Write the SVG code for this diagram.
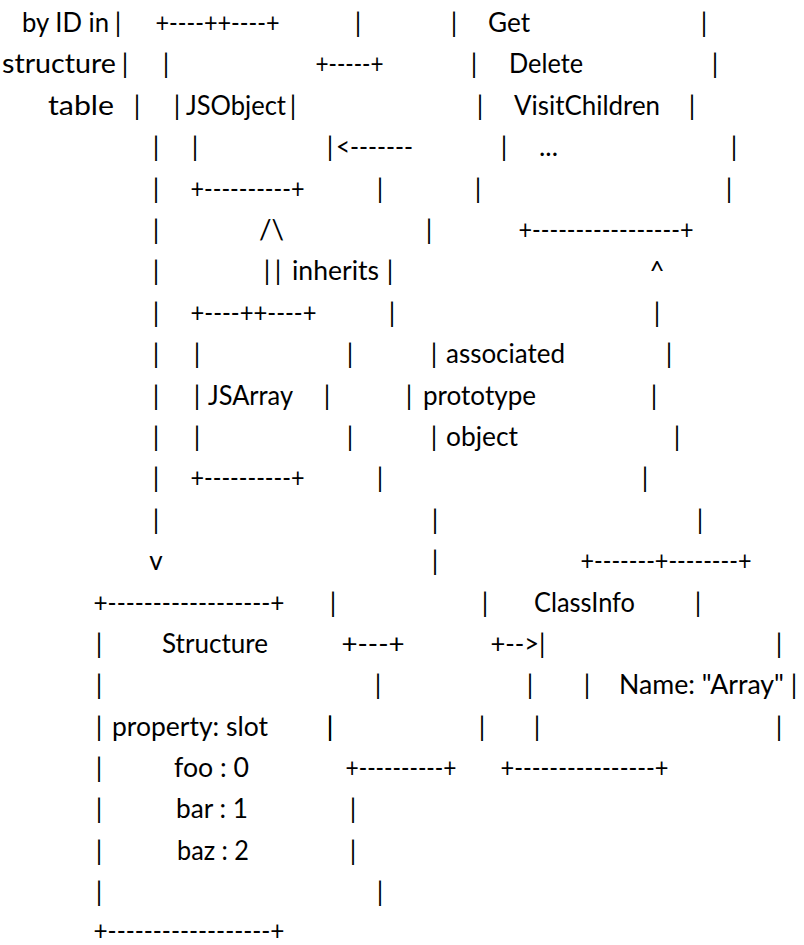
<svg xmlns="http://www.w3.org/2000/svg" width="804" height="945" viewBox="0 0 804 945">
  <style>
    text { font-family: Lato, "Open Sans", sans-serif; font-size: 26px; fill: #000; }
    .c { text-anchor: middle; }
  </style>
  <rect width="804" height="945" fill="#fff"/>

  <!-- structure-table pointer running down the left side -->
  <g id="structure-table-link">
    <text x="22" y="32" textLength="87" lengthAdjust="spacingAndGlyphs">by ID in</text>
    <text class="c" x="118" y="32">|</text>
    <text x="2" y="73" textLength="114" lengthAdjust="spacingAndGlyphs">structure</text>
    <text class="c" x="125" y="73">|</text>
    <text x="48" y="115" textLength="66" lengthAdjust="spacingAndGlyphs">table</text>
    <text class="c" x="137" y="115">|</text>
    <text class="c" x="156" y="156">|</text>
    <text class="c" x="156" y="198">|</text>
    <text class="c" x="156" y="239">|</text>
    <text class="c" x="156" y="280">|</text>
    <text class="c" x="156" y="322">|</text>
    <text class="c" x="156" y="363">|</text>
    <text class="c" x="156" y="405">|</text>
    <text class="c" x="156" y="446">|</text>
    <text class="c" x="156" y="487">|</text>
    <text class="c" x="156" y="529">|</text>
    <text class="c" x="156" y="570">v</text>
  </g>

  <!-- JSObject box -->
  <g id="jsobject">
    <text x="155.5" y="32" textLength="124" lengthAdjust="spacingAndGlyphs">+----++----+</text>
    <text class="c" x="166" y="73">|</text>
    <text class="c" x="177" y="115">|</text>
    <text x="186" y="115" textLength="100" lengthAdjust="spacingAndGlyphs">JSObject</text>
    <text class="c" x="293" y="115">|</text>
    <text class="c" x="195" y="156">|</text>
    <text x="190.5" y="198" textLength="114" lengthAdjust="spacingAndGlyphs">+----------+</text>
  </g>

  <!-- inheritance arrow -->
  <g id="inherits">
    <text x="259" y="239" textLength="25" lengthAdjust="spacingAndGlyphs">/\</text>
    <text class="c" x="267" y="280">|</text>
    <text class="c" x="278" y="280">|</text>
    <text x="292" y="280" textLength="87" lengthAdjust="spacingAndGlyphs">inherits</text>
  </g>

  <!-- JSArray box -->
  <g id="jsarray">
    <text x="190.5" y="322" textLength="126" lengthAdjust="spacingAndGlyphs">+----++----+</text>
    <text class="c" x="197" y="363">|</text>
    <text class="c" x="350" y="363">|</text>
    <text class="c" x="197" y="405">|</text>
    <text x="208" y="405" textLength="85" lengthAdjust="spacingAndGlyphs">JSArray</text>
    <text class="c" x="327" y="405">|</text>
    <text class="c" x="197" y="446">|</text>
    <text class="c" x="350" y="446">|</text>
    <text x="190.5" y="487" textLength="114" lengthAdjust="spacingAndGlyphs">+----------+</text>
  </g>

  <!-- method table -->
  <g id="method-table">
    <text class="c" x="454" y="32">|</text>
    <text x="488" y="32" textLength="42" lengthAdjust="spacingAndGlyphs">Get</text>
    <text class="c" x="704" y="32">|</text>
    <text class="c" x="474" y="73">|</text>
    <text x="509" y="73" textLength="74" lengthAdjust="spacingAndGlyphs">Delete</text>
    <text class="c" x="715" y="73">|</text>
    <text class="c" x="480" y="115">|</text>
    <text x="514" y="115" textLength="146" lengthAdjust="spacingAndGlyphs">VisitChildren</text>
    <text class="c" x="692" y="115">|</text>
    <text class="c" x="504" y="156">|</text>
    <text x="539" y="156" textLength="19" lengthAdjust="spacingAndGlyphs">...</text>
    <text class="c" x="734" y="156">|</text>
    <text class="c" x="478" y="198">|</text>
    <text class="c" x="729" y="198">|</text>
    <text x="518.5" y="239" textLength="175" lengthAdjust="spacingAndGlyphs">+-----------------+</text>
  </g>

  <!-- connectors: prototype and class-info links -->
  <g id="connectors">
    <text class="c" x="358" y="32">|</text>
    <text x="315.5" y="73" textLength="68" lengthAdjust="spacingAndGlyphs">+-----+</text>
    <text class="c" x="330" y="156">|</text>
    <text x="336" y="156" textLength="77" lengthAdjust="spacingAndGlyphs">&lt;-------</text>
    <text class="c" x="380" y="198">|</text>
    <text class="c" x="429" y="239">|</text>
    <text class="c" x="390" y="280">|</text>
    <text class="c" x="657" y="280">^</text>
    <text class="c" x="392" y="322">|</text>
    <text class="c" x="657" y="322">|</text>
    <text class="c" x="434" y="363">|</text>
    <text x="446" y="363" textLength="119" lengthAdjust="spacingAndGlyphs">associated</text>
    <text class="c" x="669" y="363">|</text>
    <text class="c" x="409" y="405">|</text>
    <text x="423" y="405" textLength="113" lengthAdjust="spacingAndGlyphs">prototype</text>
    <text class="c" x="654" y="405">|</text>
    <text class="c" x="434" y="446">|</text>
    <text x="446" y="446" textLength="72" lengthAdjust="spacingAndGlyphs">object</text>
    <text class="c" x="677" y="446">|</text>
    <text class="c" x="380" y="487">|</text>
    <text class="c" x="645" y="487">|</text>
    <text class="c" x="435" y="529">|</text>
    <text class="c" x="700" y="529">|</text>
    <text class="c" x="435" y="570">|</text>
    <text class="c" x="333" y="612">|</text>
    <text class="c" x="485" y="612">|</text>
    <text x="341.5" y="653" textLength="63" lengthAdjust="spacingAndGlyphs">+---+</text>
    <text x="490.5" y="653" textLength="55" lengthAdjust="spacingAndGlyphs">+--&gt;|</text>
    <text class="c" x="378" y="694">|</text>
    <text class="c" x="330" y="736">|</text>
    <text class="c" x="482" y="736">|</text>
    <text x="345.5" y="777" textLength="111" lengthAdjust="spacingAndGlyphs">+----------+</text>
  </g>

  <!-- ClassInfo box -->
  <g id="classinfo">
    <text x="580.5" y="570" textLength="171" lengthAdjust="spacingAndGlyphs">+-------+--------+</text>
    <text x="534" y="612" textLength="101" lengthAdjust="spacingAndGlyphs">ClassInfo</text>
    <text class="c" x="698" y="612">|</text>
    <text class="c" x="779" y="653">|</text>
    <text class="c" x="530" y="694">|</text>
    <text class="c" x="587" y="694">|</text>
    <text x="619" y="694" textLength="165" lengthAdjust="spacingAndGlyphs">Name: "Array"</text>
    <text class="c" x="794" y="694">|</text>
    <text class="c" x="537" y="736">|</text>
    <text class="c" x="779" y="736">|</text>
    <text x="500.5" y="777" textLength="168" lengthAdjust="spacingAndGlyphs">+----------------+</text>
  </g>

  <!-- Structure box -->
  <g id="structure">
    <text x="93.5" y="612" textLength="191" lengthAdjust="spacingAndGlyphs">+------------------+</text>
    <text class="c" x="99" y="653">|</text>
    <text x="162" y="653" textLength="106" lengthAdjust="spacingAndGlyphs">Structure</text>
    <text class="c" x="99" y="694">|</text>
    <text class="c" x="99" y="736">|</text>
    <text x="112" y="736" textLength="156" lengthAdjust="spacingAndGlyphs">property: slot</text>
    <text class="c" x="330" y="736">|</text>
    <text class="c" x="99" y="777">|</text>
    <text x="174" y="777" textLength="75" lengthAdjust="spacingAndGlyphs">foo : 0</text>
    <text class="c" x="99" y="818">|</text>
    <text x="176" y="818" textLength="72" lengthAdjust="spacingAndGlyphs">bar : 1</text>
    <text class="c" x="353" y="818">|</text>
    <text class="c" x="99" y="860">|</text>
    <text x="177" y="860" textLength="72" lengthAdjust="spacingAndGlyphs">baz : 2</text>
    <text class="c" x="353" y="860">|</text>
    <text class="c" x="99" y="901">|</text>
    <text class="c" x="380" y="901">|</text>
    <text x="93.5" y="940" textLength="191" lengthAdjust="spacingAndGlyphs">+------------------+</text>
  </g>
</svg>
